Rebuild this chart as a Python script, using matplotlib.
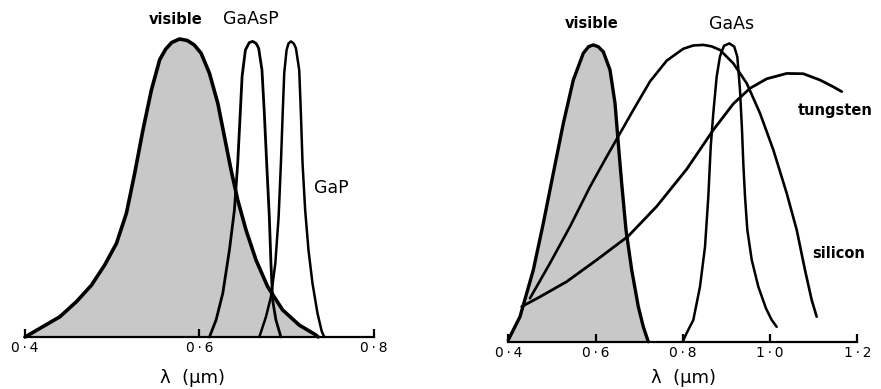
import matplotlib
matplotlib.use("Agg")
import matplotlib.pyplot as plt

# ---------------- data (wavelength in µm, relative intensity) ----------------
# Left panel
vis_l_wl = [0.4000, 0.4171, 0.4400, 0.4591, 0.4762, 0.4914, 0.5048, 0.5162, 0.5257, 0.5352,
            0.5448, 0.5543, 0.5610, 0.5680, 0.5771, 0.5860, 0.5940, 0.6019, 0.6114, 0.6210,
            0.6286, 0.6362, 0.6438, 0.6533, 0.6648, 0.6781, 0.6952, 0.7143, 0.7333, 0.7360]
vis_l_val = [0.000, 0.029, 0.068, 0.119, 0.174, 0.242, 0.314, 0.415, 0.549, 0.695,
             0.828, 0.930, 0.965, 0.988, 1.000, 0.995, 0.980, 0.952, 0.885, 0.784,
             0.672, 0.560, 0.460, 0.359, 0.258, 0.169, 0.091, 0.040, 0.007, 0.000]

gaasp_wl = [0.6114, 0.6190, 0.6267, 0.6343, 0.6400, 0.6438, 0.6465, 0.6488, 0.6526, 0.6570,
            0.6610, 0.6650, 0.6678, 0.6716, 0.6743, 0.6770, 0.6800, 0.6819, 0.6838, 0.6876,
            0.6933]
gaasp_val = [0.000, 0.057, 0.147, 0.292, 0.426, 0.583, 0.739, 0.874, 0.963, 0.988,
             0.992, 0.985, 0.969, 0.896, 0.751, 0.583, 0.404, 0.247, 0.124, 0.057,
             0.000]

gap_wl = [0.6686, 0.6762, 0.6819, 0.6869, 0.6907, 0.6933, 0.6952, 0.6971, 0.6998, 0.7020,
          0.7048, 0.7080, 0.7105, 0.7143, 0.7162, 0.7181, 0.7211, 0.7249, 0.7295, 0.7352,
          0.7400, 0.7430]
gap_val = [0.000, 0.068, 0.135, 0.247, 0.404, 0.583, 0.739, 0.885, 0.963, 0.985,
           0.992, 0.985, 0.969, 0.896, 0.751, 0.583, 0.426, 0.292, 0.180, 0.080,
           0.020, 0.000]

# Right panel
vis_r_wl = [0.4000, 0.4268, 0.4573, 0.4802, 0.5031, 0.5261, 0.5490, 0.5719, 0.5840, 0.5948,
            0.6060, 0.6178, 0.6331, 0.6446, 0.6521, 0.6599, 0.6698, 0.6829, 0.6980, 0.7095,
            0.7209]
vis_r_val = [0.006, 0.084, 0.241, 0.398, 0.566, 0.734, 0.880, 0.970, 0.992, 0.998,
             0.992, 0.975, 0.914, 0.802, 0.667, 0.533, 0.376, 0.241, 0.118, 0.050,
             0.000]

tung_wl = [0.4307, 0.4727, 0.5339, 0.6026, 0.6751, 0.7402, 0.8089, 0.8699, 0.9158, 0.9540,
           0.9923, 1.0382, 1.0762, 1.1145, 1.1450, 1.1643]
tung_val = [0.118, 0.151, 0.202, 0.275, 0.355, 0.455, 0.580, 0.712, 0.800, 0.852,
            0.884, 0.902, 0.901, 0.880, 0.857, 0.841]

si_wl = [0.4497, 0.4956, 0.5414, 0.5873, 0.6255, 0.6865, 0.7248, 0.7631, 0.8011, 0.8240,
         0.8470, 0.8660, 0.8853, 0.9157, 0.9465, 0.9770, 1.0075, 1.0382, 1.0611, 1.0801,
         1.0955, 1.1069]
si_val = [0.146, 0.264, 0.387, 0.521, 0.622, 0.779, 0.875, 0.945, 0.985, 0.996,
          0.998, 0.993, 0.981, 0.936, 0.869, 0.768, 0.645, 0.499, 0.376, 0.241,
          0.140, 0.084]

gaas_wl = [0.7998, 0.8085, 0.8241, 0.8394, 0.8509, 0.8585, 0.8640, 0.8699, 0.8776, 0.8853,
           0.8945, 0.9066, 0.9180, 0.9250, 0.9311, 0.9357, 0.9387, 0.9426, 0.9479, 0.9580,
           0.9731, 0.9907, 1.0038, 1.0152]
gaas_val = [0.000, 0.028, 0.073, 0.185, 0.319, 0.488, 0.656, 0.768, 0.891, 0.960,
            0.995, 1.003, 0.992, 0.958, 0.846, 0.712, 0.600, 0.488, 0.376, 0.275,
            0.185, 0.112, 0.073, 0.050]

left_ticks = [0.4, 0.6, 0.8]
left_ticklabels = ["0\u2009·\u20094", "0\u2009·\u20096", "0\u2009·\u20098"]
right_ticks = [0.4, 0.6, 0.8, 1.0, 1.2]
right_ticklabels = ["0\u2009·\u20094", "0\u2009·\u20096", "0\u2009·\u20098",
                    "1\u2009·\u20090", "1\u2009·\u20092"]

# ---------------- figure ----------------
W, H = 881, 389
plt.rcParams['font.family'] = ['DejaVu Sans']
fig = plt.figure(figsize=(W / 100, H / 100), dpi=100)

def make_axes(px0, px1, xmin, xmax, base_py, unit_px):
    top = 1.15
    ax = fig.add_axes([px0 / W, (H - base_py) / H, (px1 - px0) / W, unit_px * top / H])
    ax.set_xlim(xmin, xmax)
    ax.set_ylim(0, top)
    ax.patch.set_alpha(0)
    for s in ('top', 'left', 'right'):
        ax.spines[s].set_visible(False)
    ax.spines['bottom'].set_linewidth(1.6)
    ax.set_yticks([])
    ax.tick_params(axis='x', direction='in', length=6, width=1.6, pad=3,
                   labelsize=10)
    return ax

FILL = '#c8c8c8'
KW = dict(color='black', solid_joinstyle='round', solid_capstyle='round', clip_on=False)

# left panel
axl = make_axes(25, 374, 0.4, 0.8, 337, 298)
axl.fill_between(vis_l_wl, vis_l_val, 0, color=FILL, lw=0, clip_on=False)
axl.plot(vis_l_wl, vis_l_val, lw=2.6, **KW)
axl.plot(gaasp_wl, gaasp_val, lw=2.0, **KW)
axl.plot(gap_wl, gap_val, lw=1.8, **KW)
axl.set_xticks(left_ticks)
axl.set_xticklabels(left_ticklabels)

# right panel
axr = make_axes(508.3, 857.3, 0.4, 1.2, 341.7, 297.4)
axr.fill_between(vis_r_wl, vis_r_val, 0, color=FILL, lw=0, clip_on=False)
axr.plot(vis_r_wl, vis_r_val, lw=2.4, **KW)
axr.plot(tung_wl, tung_val, lw=2.0, **KW)
axr.plot(si_wl, si_val, lw=1.9, **KW)
axr.plot(gaas_wl, gaas_val, lw=1.8, **KW)
axr.set_xticks(right_ticks)
axr.set_xticklabels(right_ticklabels)

def ftext(px, py, s, **kw):
    fig.text(px / W, 1 - py / H, s, ha='center', va='center', **kw)

ftext(176, 20, 'visible', fontsize=10.5, fontweight='bold')
ftext(251, 19, 'GaAsP', fontsize=12.5)
ftext(331, 188, 'GaP', fontsize=12.5)
ftext(193, 378, 'λ  (μm)', fontsize=13)

ftext(591.7, 24, 'visible', fontsize=10.5, fontweight='bold')
ftext(731.7, 24, 'GaAs', fontsize=12.5)
ftext(835, 110, 'tungsten', fontsize=10.5, fontweight='bold')
ftext(838.3, 254, 'silicon', fontsize=10.5, fontweight='bold')
ftext(683.3, 378, 'λ  (μm)', fontsize=13)

fig.savefig('out.png', dpi=100)
